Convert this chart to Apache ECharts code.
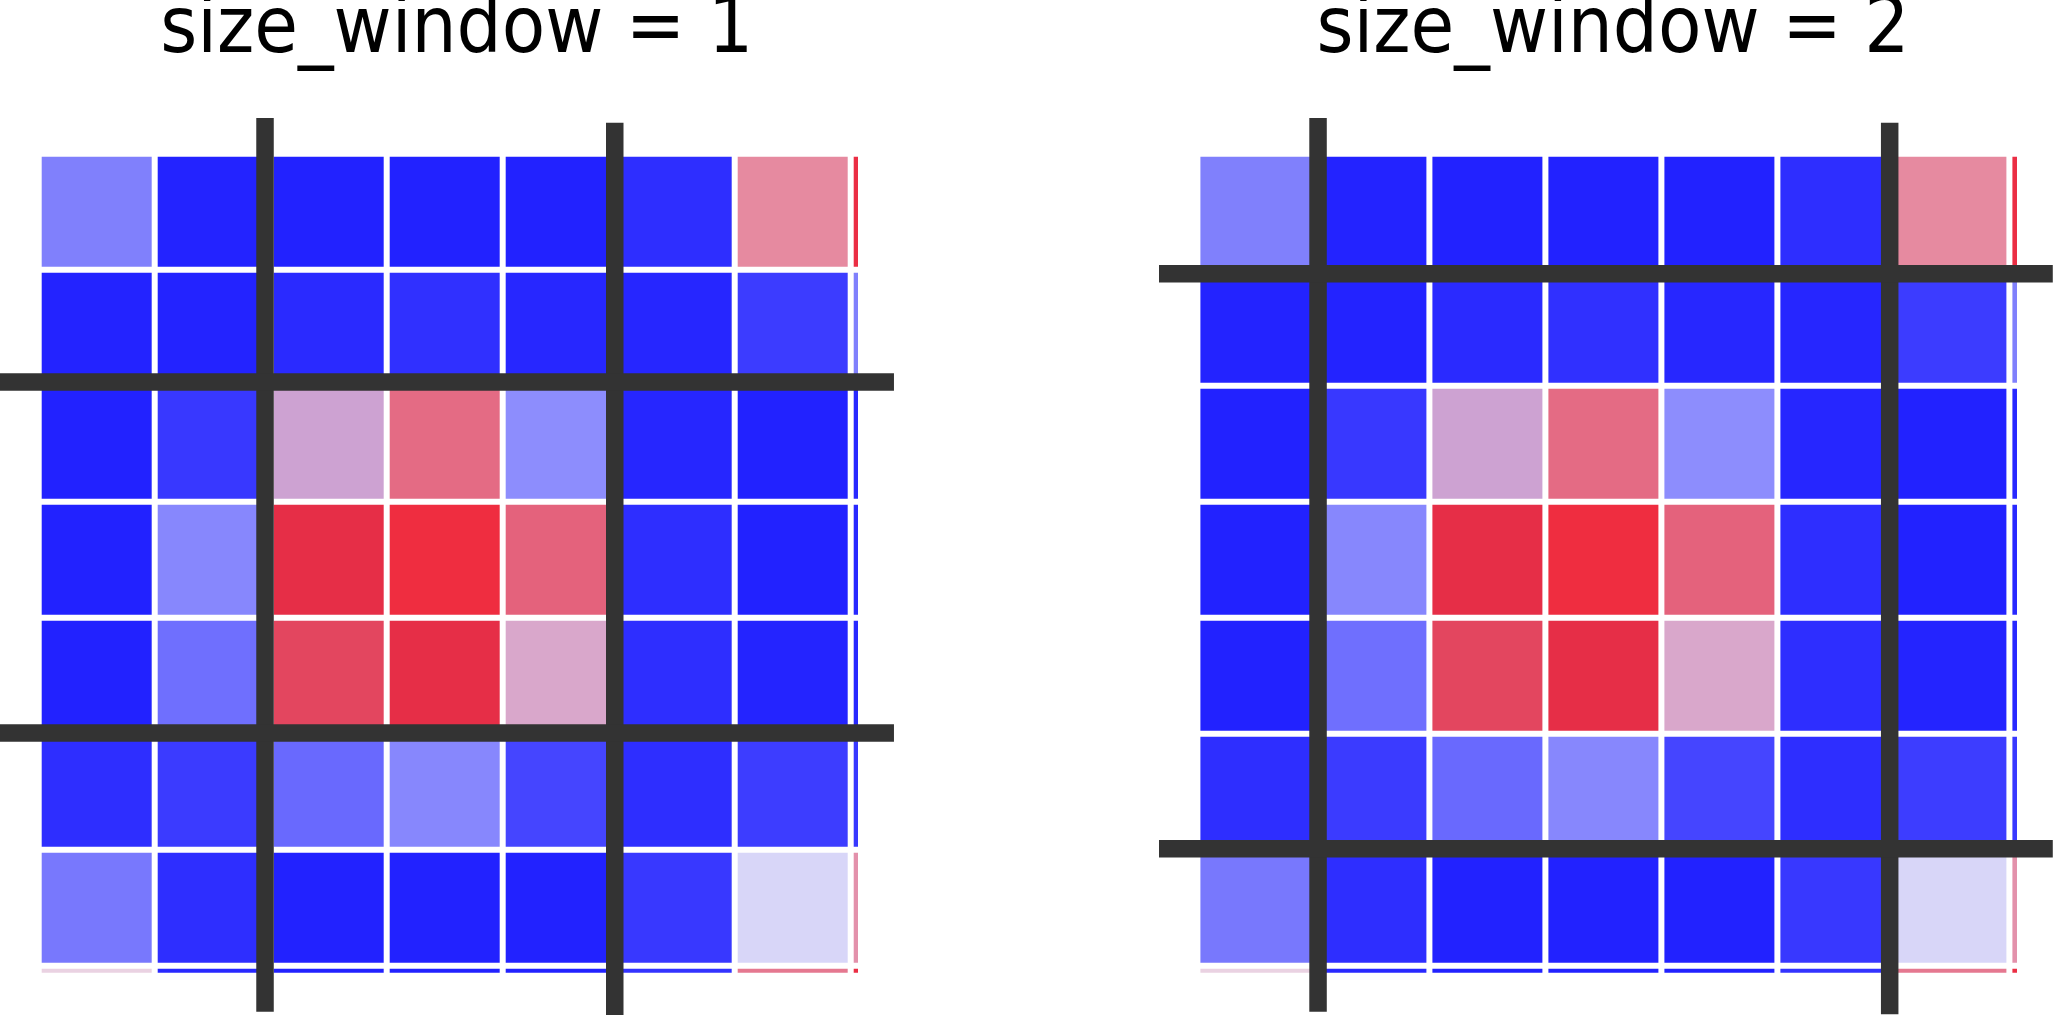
<!DOCTYPE html>
<html>
<head>
<meta charset="utf-8">
<script src="https://cdn.jsdelivr.net/npm/echarts@6/dist/echarts.min.js"></script>
<style>
  html, body { margin: 0; padding: 0; background: #ffffff; }
  #chart { width: 2054px; height: 1016px; }
</style>
</head>
<body>
<div id="chart"></div>
<script>
// ---- data ----
const panelTitles = ['size_window = 1', 'size_window = 2'];

// cell values (rows top -> bottom, columns left -> right); last row/column are cut off by the frame
const cellValues = [
  [-0.40, -0.99, -1.00, -1.00, -1.00, -0.90,  0.40,  0.95],
  [-0.99, -0.99, -0.93, -0.88, -0.96, -0.97, -0.77, -0.40],
  [-1.00, -0.80,  0.10,  0.56, -0.30, -0.97, -1.00, -0.95],
  [-1.00, -0.35,  0.90,  1.00,  0.60, -0.90, -1.00, -0.95],
  [-1.00, -0.50,  0.80,  0.90,  0.20, -0.90, -0.98, -0.95],
  [-0.90, -0.78, -0.53, -0.35, -0.70, -0.90, -0.76, -0.80],
  [-0.45, -0.90, -1.00, -1.00, -1.00, -0.80, -0.10,  0.35],
  [ 0.00, -0.95, -1.00, -1.00, -1.00, -0.85,  0.50,  0.95]
];

// colour scale stops from -1 to 1 (evenly spaced)
const colorStops = [
  '#2222ff', '#2e2eff', '#3838ff', '#4545ff', '#5c5cff', '#6f6ffe', '#8080fc',
  '#8d8dfd', '#b2b0fa', '#d8d6f8', '#ead2e2', '#cda2d2', '#d9a7cb', '#e097b5',
  '#e68aa0', '#e57890', '#e4627c', '#e3506a', '#e3465f', '#e62e47', '#ef2d40'
];

// window boundary lines in cell units: [position, start, end]
const panel1VLines = [[1.951, -0.308, 7.397], [4.966, -0.267, 7.425]];
const panel1HLines = [[1.968, -0.334, 7.373], [4.994, -0.334, 7.373]];
const panel2VLines = [[1.040, -0.308, 7.397], [5.968, -0.267, 7.419]];
const panel2HLines = [[1.034, -0.331, 7.374], [5.992, -0.331, 7.374]];

const visibleExtent = 7.06;

// ---- build ----
const cellData = [];
cellValues.forEach((row, r) => row.forEach((v, c) => cellData.push([c, r, v])));

const chart = echarts.init(document.getElementById('chart'), null, { renderer: 'canvas' });

const unit = 116;
const gap = 3;
function renderCell(params, api) {
  const x = api.value(0), y = api.value(1);
  const p0 = api.coord([x, y]);
  const p1 = api.coord([x + 1, y + 1]);
  return {
    type: 'rect',
    shape: {
      x: Math.min(p0[0], p1[0]) + gap,
      y: Math.min(p0[1], p1[1]) + gap,
      width: Math.abs(p1[0] - p0[0]) - 2 * gap,
      height: Math.abs(p1[1] - p0[1]) - 2 * gap
    },
    style: { fill: api.visual('color') }
  };
}

function lineSeries(axisIdx, vLines, hLines) {
  const out = [];
  vLines.forEach(l => out.push([[l[0], l[1]], [l[0], l[2]]]));
  hLines.forEach(l => out.push([[l[1], l[0]], [l[2], l[0]]]));
  return out.map(d => ({
    type: 'line',
    xAxisIndex: axisIdx,
    yAxisIndex: axisIdx,
    data: d,
    clip: false,
    symbol: 'none',
    silent: true,
    animation: false,
    z: 5,
    lineStyle: { color: '#333333', width: 17.5, cap: 'butt' }
  }));
}

const gridLefts = [38.7, 1197.4];
const gridTop = 153.7;
const overlayX = [-0.3336, 7.38];
const overlayY = [-0.33, 7.43];
const titleCenters = [456.7, 1613];

const grids = [];
const xAxes = [];
const yAxes = [];
// heatmap grids
gridLefts.forEach((l, i) => {
  grids.push({ left: l, top: gridTop, width: visibleExtent * unit, height: visibleExtent * unit,
    show: false, containLabel: false, outerBoundsMode: 'none' });
  xAxes.push({ type: 'value', gridIndex: i, min: 0, max: visibleExtent, show: false });
  yAxes.push({ type: 'value', gridIndex: i, min: 0, max: visibleExtent, inverse: true, show: false });
});
// overlay grids (same cell scale, wider extent) for the window lines
gridLefts.forEach((l, i) => {
  grids.push({
    left: l + overlayX[0] * unit, top: gridTop + overlayY[0] * unit,
    width: (overlayX[1] - overlayX[0]) * unit, height: (overlayY[1] - overlayY[0]) * unit,
    show: false, containLabel: false, outerBoundsMode: 'none'
  });
  xAxes.push({ type: 'value', gridIndex: 2 + i, min: overlayX[0], max: overlayX[1], show: false });
  yAxes.push({ type: 'value', gridIndex: 2 + i, min: overlayY[0], max: overlayY[1], inverse: true, show: false });
});

const option = {
  backgroundColor: '#ffffff',
  animation: false,
  title: panelTitles.map((t, i) => ({
    text: t,
    left: titleCenters[i],
    top: -8,
    textAlign: 'center',
    padding: 0,
    textStyle: {
      fontFamily: 'DejaVu Sans Condensed',
      fontSize: 79,
      lineHeight: 79,
      fontWeight: 'normal',
      color: '#000000'
    }
  })),
  grid: grids,
  xAxis: xAxes,
  yAxis: yAxes,
  visualMap: {
    type: 'continuous',
    show: false,
    min: -1,
    max: 1,
    dimension: 2,
    seriesIndex: [0, 1],
    inRange: { color: colorStops }
  },
  series: [
    { type: 'custom', xAxisIndex: 0, yAxisIndex: 0, data: cellData, renderItem: renderCell, clip: true, z: 2 },
    { type: 'custom', xAxisIndex: 1, yAxisIndex: 1, data: cellData, renderItem: renderCell, clip: true, z: 2 }
  ].concat(lineSeries(2, panel1VLines, panel1HLines), lineSeries(3, panel2VLines, panel2HLines))
};

chart.setOption(option);
</script>
</body>
</html>
